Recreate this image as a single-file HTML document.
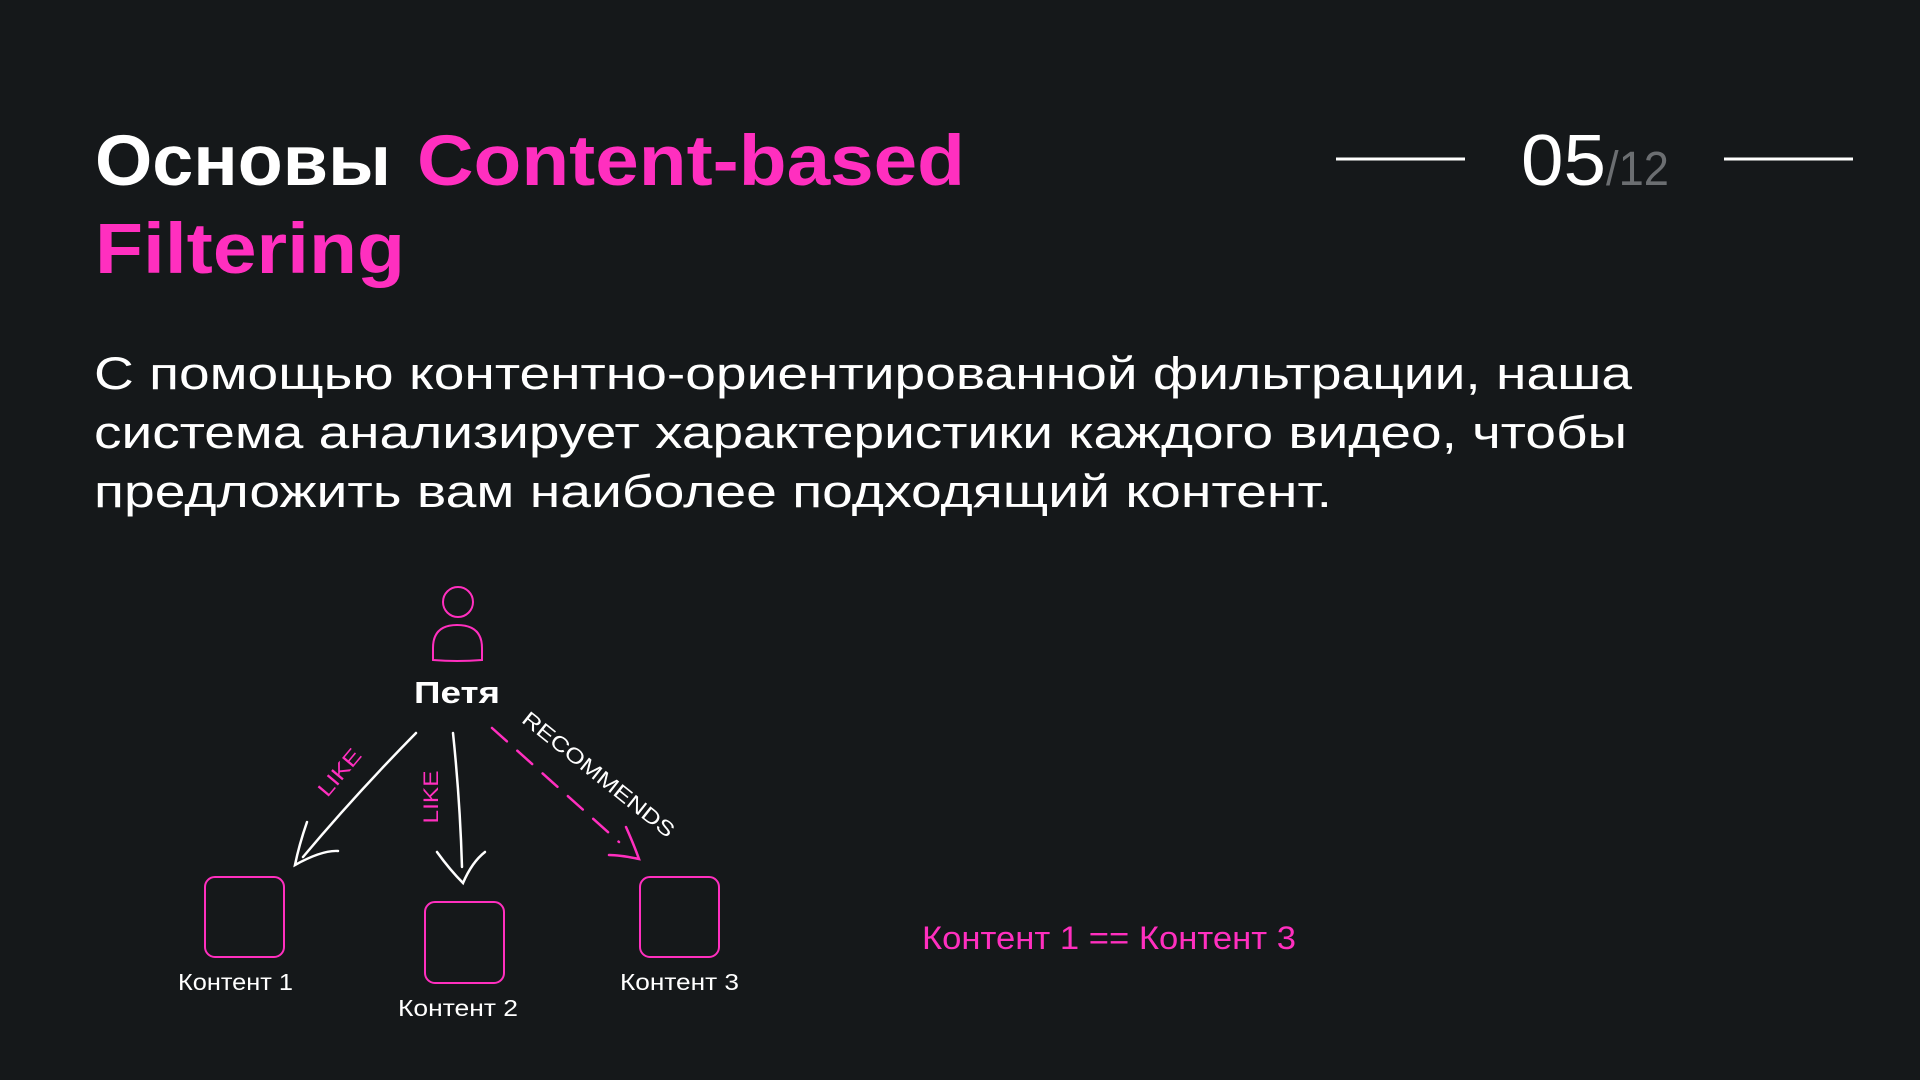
<!DOCTYPE html>
<html><head><meta charset="utf-8"><style>
html,body{margin:0;padding:0;background:#15181a;}
svg{display:block}
text{font-family:"Liberation Sans",sans-serif;}
</style></head><body>
<svg width="1920" height="1080" viewBox="0 0 1920 1080" xmlns="http://www.w3.org/2000/svg">
<rect width="1920" height="1080" fill="#15181a"/>
<g font-weight="bold" font-size="71">
<text x="95" y="185" fill="#ffffff" textLength="296" lengthAdjust="spacingAndGlyphs">Основы</text>
<text x="417" y="185" fill="#ff2fbf" textLength="548" lengthAdjust="spacingAndGlyphs">Content-based</text>
<text x="95" y="273" fill="#ff2fbf" textLength="310" lengthAdjust="spacingAndGlyphs">Filtering</text>
</g>
<line x1="1336" y1="159" x2="1465" y2="159" stroke="#fff" stroke-width="3"/>
<line x1="1724" y1="159" x2="1853" y2="159" stroke="#fff" stroke-width="3"/>
<text x="1521" y="185" fill="#fff" font-size="72" textLength="85" lengthAdjust="spacingAndGlyphs">05</text>
<text x="1606" y="185" fill="#6b6e71" font-size="48" textLength="63" lengthAdjust="spacingAndGlyphs">/12</text>
<g fill="#fff" font-size="45">
<text x="94" y="389" textLength="1538" lengthAdjust="spacingAndGlyphs">С помощью контентно-ориентированной фильтрации, наша</text>
<text x="94" y="448" textLength="1533" lengthAdjust="spacingAndGlyphs">система анализирует характеристики каждого видео, чтобы</text>
<text x="94" y="507" textLength="1238" lengthAdjust="spacingAndGlyphs">предложить вам наиболее подходящий контент.</text>
</g>
<g fill="none" stroke="#ff2fbf" stroke-width="2">
<circle cx="458" cy="602" r="15"/>
<path d="M433 660 L433 648 Q433 625 457 625 Q482 625 482 648 L482 660 Q457 662 433 660 Z"/>
<rect x="205" y="877" width="79" height="80" rx="10"/>
<rect x="425" y="902" width="79" height="81" rx="10"/>
<rect x="640" y="877" width="79" height="80" rx="10"/>
</g>
<text x="457" y="703" fill="#fff" font-size="31" font-weight="bold" text-anchor="middle" textLength="86" lengthAdjust="spacingAndGlyphs">Петя</text>
<g fill="none" stroke="#fff" stroke-width="2.5" stroke-linecap="round">
<path d="M416 733 Q355 795 303 857"/>
<path d="M307 822 Q299 845 295 865 Q322 850 338 851"/>
<path d="M453 733 Q460 800 462 867"/>
<path d="M437 852 Q450 870 463 883 Q472 862 485 852"/>
</g>
<g fill="none" stroke="#ff2fbf" stroke-width="2.5" stroke-linecap="round">
<path d="M492 728 L619 842" stroke-dasharray="20 14"/>
<path d="M626 827 Q634 845 639 859 Q620 855 609 855"/>
</g>
<text transform="translate(345,777) rotate(-50)" fill="#ff2fbf" font-size="21" text-anchor="middle" textLength="55" lengthAdjust="spacingAndGlyphs">LIKE</text>
<text transform="translate(438,797) rotate(-90)" fill="#ff2fbf" font-size="21" text-anchor="middle" textLength="53" lengthAdjust="spacingAndGlyphs">LIKE</text>
<text transform="translate(594,780) rotate(38.5)" fill="#fff" font-size="21" text-anchor="middle" textLength="188" lengthAdjust="spacingAndGlyphs">RECOMMENDS</text>
<g fill="#fff" font-size="23">
<text x="178" y="990" textLength="115" lengthAdjust="spacingAndGlyphs">Контент 1</text>
<text x="398" y="1016" textLength="120" lengthAdjust="spacingAndGlyphs">Контент 2</text>
<text x="620" y="990" textLength="119" lengthAdjust="spacingAndGlyphs">Контент 3</text>
</g>
<text x="922" y="949" fill="#ff2fbf" font-size="32" textLength="374" lengthAdjust="spacingAndGlyphs">Контент 1 == Контент 3</text>
</svg>
</body></html>
